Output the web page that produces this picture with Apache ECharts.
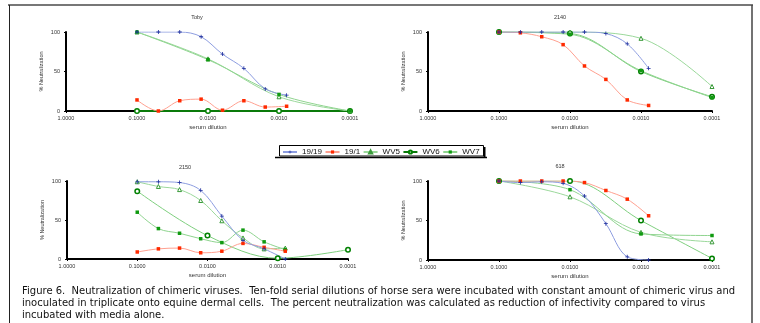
<!DOCTYPE html>
<html>
<head>
<meta charset="utf-8">
<script src="https://cdn.jsdelivr.net/npm/echarts@6/dist/echarts.min.js"></script>
<style>
  html, body { margin: 0; padding: 0; background: #fff; }
  #main { width: 760px; height: 323px; }
</style>
</head>
<body>
<div id="main"></div>
<script>
// dilutions: 2-fold series and 10-fold series
var dil2 = [0.1, 0.05, 0.025, 0.0125, 0.00625, 0.003125, 0.0015625, 0.00078125];
var dil10 = [0.1, 0.01, 0.001, 0.0001];
var xTicks = ['1.0000', '0.1000', '0.0100', '0.0010', '0.0001'];

var panelTitles = ['Toby', '2140', '2150', '618'];
var seriesNames = ['19/19', '19/1', 'WV5', 'WV6', 'WV7'];

// Toby
var toby_1919 = [100, 100, 100, 94, 72, 54, 28, 20];
var toby_191 = [14, 0, 13, 15, 1, 13, 5, 6];
var toby_wv5 = [100, 66, 18, 0];
var toby_wv6 = [0, 0, 0, 0];
var toby_wv7 = [100, 65, 21, 0];

// 2140
var s2140_1919 = [100, 100, 100, 100, 100, 98, 85, 54];
var s2140_191 = [100, 99, 94, 84, 57, 40, 14, 7];
var s2140_wv5 = [100, 100, 92, 31];
var s2140_wv6 = [100, 98, 50, 18];
var s2140_wv7 = [100, 97, 51, 17];

// 2150
var s2150_1919 = [99, 99, 98, 88, 55, 24, 13, 0];
var s2150_191 = [9, 13, 14, 8, 10, 20, 15, 10];
var s2150_wv5 = [99, 93, 89, 75, 49, 27, 13, 14];
var s2150_wv6 = [87, 30, 1, 12];
var s2150_wv7 = [60, 39, 33, 26, 21, 37, 22, 12];

// 618
var s618_1919 = [100, 98, 99, 97, 81, 46, 4, 0];
var s618_191 = [100, 100, 100, 100, 98, 88, 77, 56];
var s618_wv5 = [100, 80, 35, 23];
var s618_wv6 = [100, 100, 50, 2];
var s618_wv7 = [100, 89, 33, 31];

var captionLines = [
  'Figure 6.  Neutralization of chimeric viruses.  Ten-fold serial dilutions of horse sera were incubated with constant amount of chimeric virus and',
  'inoculated in triplicate onto equine dermal cells.  The percent neutralization was calculated as reduction of infectivity compared to virus',
  'incubated with media alone.'
];

var plusPath = 'path://M4,0H6V4H10V6H6V10H4V6H0V4H4Z';

var styles = {
  '19/19': { line: '#8d9de0', width: 1, symbol: plusPath, size: 4, fill: '#1c2c9c', border: '#1c2c9c', bw: 0 },
  '19/1': { line: '#ffa090', width: 1, symbol: 'rect', size: 3.5, fill: '#ff2a00', border: '#ff2a00', bw: 0 },
  'WV5': { line: '#9bd89b', width: 1, symbol: 'triangle', size: 4, fill: '#ffffff', border: '#3a9a3a', bw: 1 },
  'WV6': { line: '#7fcf7f', width: 1, symbol: 'circle', size: 4.5, fill: '#ffffff', border: '#008000', bw: 1.5 },
  'WV7': { line: '#8fd48f', width: 1, symbol: 'rect', size: 3.5, fill: '#109a10', border: '#109a10', bw: 0 }
};

function pairs(xs, ys) {
  return ys.map(function (y, i) { return [xs[i], y]; });
}

function mk(idx, name, xs, ys, override) {
  var s = styles[name];
  var o = override || {};
  return {
    name: name,
    type: 'line',
    xAxisIndex: idx,
    yAxisIndex: idx,
    smooth: 0.35,
    symbol: s.symbol,
    symbolSize: s.size,
    showAllSymbol: true,
    lineStyle: { color: o.line || s.line, width: o.width || s.width },
    itemStyle: { color: s.fill, borderColor: s.border, borderWidth: s.bw },
    emphasis: { disabled: true },
    data: pairs(xs, ys)
  };
}

var grids = [
  { left: 66, top: 32, width: 284, height: 79 },
  { left: 428, top: 32, width: 284, height: 79 },
  { left: 67, top: 181, width: 281, height: 78 },
  { left: 428, top: 181, width: 284, height: 79 }
];

var xAxes = grids.map(function (g, i) {
  return {
    gridIndex: i,
    type: 'log',
    logBase: 10,
    min: 0.0001,
    max: 1,
    inverse: true,
    name: 'serum dilution',
    nameLocation: 'middle',
    nameGap: 13,
    nameTextStyle: { fontSize: 6, color: '#333', fontFamily: 'Liberation Sans' },
    axisLine: { lineStyle: { color: '#000', width: 2 } },
    axisTick: { show: true, length: 2, lineStyle: { color: '#000' } },
    minorTick: { show: false },
    splitLine: { show: false },
    axisLabel: {
      fontSize: 5.5, color: '#333', margin: 4, fontFamily: 'Liberation Sans',
      showMinLabel: true, showMaxLabel: true,
      formatter: function (v) {
        var k = Math.round(-Math.log10(v));
        return xTicks[k] || '';
      }
    }
  };
});

var yAxes = grids.map(function (g, i) {
  return {
    gridIndex: i,
    type: 'value',
    min: 0,
    max: 100,
    interval: 50,
    name: '% Neutralization',
    nameLocation: 'middle',
    nameRotate: 90,
    nameGap: 22,
    nameTextStyle: { fontSize: 5.5, color: '#333', fontFamily: 'Liberation Sans' },
    axisLine: { show: true, lineStyle: { color: '#000', width: 2 } },
    axisTick: { show: true, length: 2, lineStyle: { color: '#000' } },
    splitLine: { show: false },
    axisLabel: { fontSize: 5.5, color: '#333', margin: 6, fontFamily: 'Liberation Sans' }
  };
});

var series = [
  mk(0, 'WV6', dil10, toby_wv6, { line: '#0a7a0a', width: 2 }),
  mk(0, 'WV5', dil10, toby_wv5),
  mk(0, 'WV7', dil10, toby_wv7),
  mk(0, '19/1', dil2, toby_191),
  mk(0, '19/19', dil2, toby_1919),

  mk(1, 'WV6', dil10, s2140_wv6),
  mk(1, 'WV5', dil10, s2140_wv5),
  mk(1, 'WV7', dil10, s2140_wv7),
  mk(1, '19/1', dil2, s2140_191),
  mk(1, '19/19', dil2, s2140_1919),

  mk(2, 'WV6', dil10, s2150_wv6),
  mk(2, 'WV5', dil2, s2150_wv5),
  mk(2, 'WV7', dil2, s2150_wv7),
  mk(2, '19/1', dil2, s2150_191),
  mk(2, '19/19', dil2, s2150_1919),

  mk(3, 'WV6', dil10, s618_wv6),
  mk(3, 'WV5', dil10, s618_wv5),
  mk(3, 'WV7', dil10, s618_wv7),
  mk(3, '19/1', dil2, s618_191),
  mk(3, '19/19', dil2, s618_1919)
];

var titlePos = [[197, 17], [560, 17], [185, 167], [560, 166]];

var graphics = [
  // page frame
  { type: 'line', shape: { x1: 8, y1: 5, x2: 753, y2: 5 }, style: { stroke: '#777', lineWidth: 2 } },
  { type: 'line', shape: { x1: 9.5, y1: 5, x2: 9.5, y2: 323 }, style: { stroke: '#222', lineWidth: 1 } },
  { type: 'line', shape: { x1: 752, y1: 5, x2: 752, y2: 323 }, style: { stroke: '#444', lineWidth: 1.5 } },
  // legend box with shadow
  { type: 'line', shape: { x1: 275, y1: 157.5, x2: 487, y2: 157.5 }, style: { stroke: '#000', lineWidth: 1.5 } },
  { type: 'line', shape: { x1: 484.5, y1: 147, x2: 484.5, y2: 158 }, style: { stroke: '#000', lineWidth: 2 } },
  { type: 'rect', shape: { x: 279.5, y: 145.5, width: 204, height: 10.5 }, style: { fill: '#fff', stroke: '#000', lineWidth: 1 }, z: -1 }
];

titlePos.forEach(function (p, i) {
  graphics.push({
    type: 'text', x: p[0], y: p[1],
    style: { text: panelTitles[i], fontSize: 5.5, fill: '#333', fontFamily: 'Liberation Sans', align: 'center', verticalAlign: 'middle' }
  });
});

captionLines.forEach(function (t, i) {
  graphics.push({
    type: 'text', x: 22, y: 291 + i * 12,
    style: { text: t, fontSize: 10, fill: '#111', fontFamily: 'DejaVu Sans', align: 'left', verticalAlign: 'middle' }
  });
});

var myChart = echarts.init(document.getElementById('main'), null, { renderer: 'canvas' });
var option = {
  animation: false,
  backgroundColor: '#fff',
  grid: grids,
  xAxis: xAxes,
  yAxis: yAxes,
  legend: {
    data: seriesNames,
    left: 282,
    top: 148,
    padding: 0,
    itemGap: 2.5,
    itemWidth: 14,
    itemHeight: 4,
    textStyle: { fontSize: 8, color: '#111', fontFamily: 'Liberation Sans' },
    selectedMode: false,
    z: 5
  },
  graphic: graphics,
  series: series
};
myChart.setOption(option);
</script>
</body>
</html>
